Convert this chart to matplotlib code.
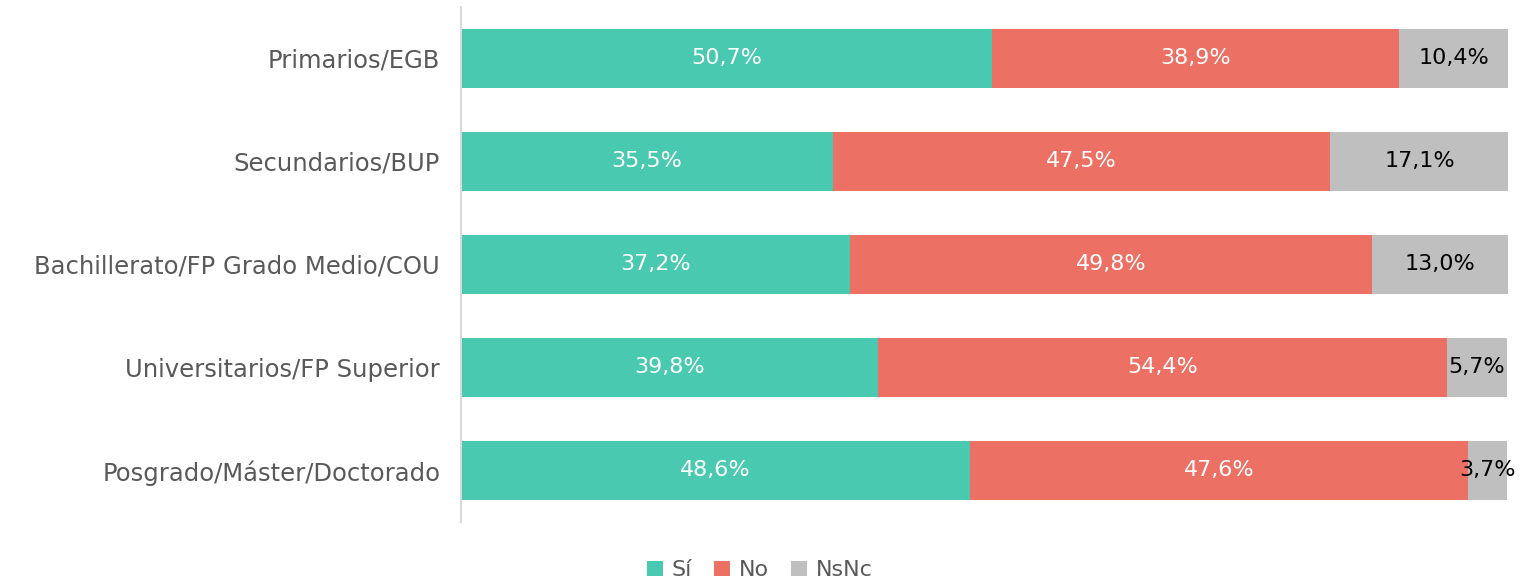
import matplotlib
matplotlib.use("Agg")
import matplotlib.pyplot as plt
import numpy as np

# Data
categories = [
    "Primarios/EGB",
    "Secundarios/BUP",
    "Bachillerato/FP Grado Medio/COU",
    "Universitarios/FP Superior",
    "Posgrado/Máster/Doctorado",
]
si = [50.7, 35.5, 37.2, 39.8, 48.6]
no = [38.9, 47.5, 49.8, 54.4, 47.6]
nsnc = [10.4, 17.1, 13.0, 5.7, 3.7]

series_names = ["Sí", "No", "NsNc"]
colors = ["#48C9B0", "#EC7063", "#BFBFBF"]
text_colors = ["white", "white", "black"]

plt.rcParams["font.family"] = ["DejaVu Sans"]

fig = plt.figure(figsize=(15.2, 5.8), dpi=100)
ax = fig.add_axes([0.3033, 0.1, 0.6888, 0.888])

y = np.arange(len(categories))
left = np.zeros(len(categories))
for vals, name, col, tcol in zip([si, no, nsnc], series_names, colors, text_colors):
    vals = np.array(vals)
    ax.barh(y, vals, left=left, height=0.58, color=col, label=name)
    for yi, l, v in zip(y, left, vals):
        ax.text(l + v / 2, yi, f"{v:.1f}%".replace(".", ","),
                ha="center", va="center", color=tcol, fontsize=16)
    left += vals

ax.set_xlim(0, 100)
ax.set_ylim(len(categories) - 0.5, -0.5)
ax.set_yticks(y)
ax.set_yticklabels(categories, fontsize=17.5, color="#595959")
ax.tick_params(axis="y", length=0, pad=15)
ax.set_xticks([])
for s in ["top", "right", "bottom"]:
    ax.spines[s].set_visible(False)
ax.spines["left"].set_color("#D9D9D9")
ax.spines["left"].set_linewidth(1.5)

fig.legend(loc="lower center", bbox_to_anchor=(0.5, -0.035), ncol=3, frameon=False,
           fontsize=16, handlelength=0.7, handleheight=0.7, handletextpad=0.4,
           columnspacing=1.0, labelcolor="#595959")

fig.savefig("out.png", dpi=100)
